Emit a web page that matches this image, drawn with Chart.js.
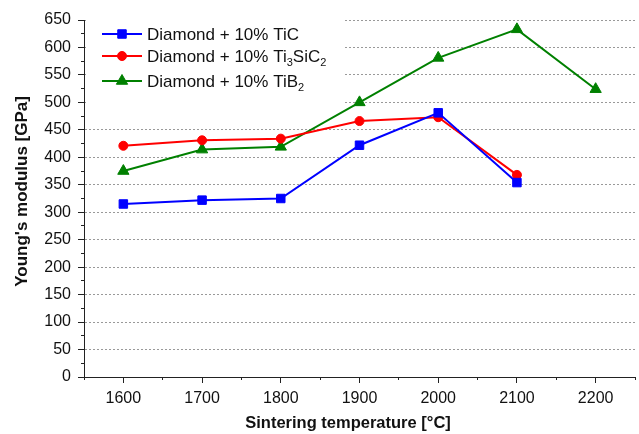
<!DOCTYPE html>
<html>
<head>
<meta charset="utf-8">
<script src="https://cdn.jsdelivr.net/npm/chart.js@4.4.0/dist/chart.umd.min.js"></script>
<style>
  html, body { margin: 0; padding: 0; background: #fff; }
</style>
</head>
<body>
<canvas id="grafico" width="639" height="434"></canvas>
<script>
// dati
const temperature = [1600, 1700, 1800, 1900, 2000, 2100, 2200];
const moduloTiC = [315, 322, 325, 422, 481, 354];
const moduloTi3SiC2 = [421, 431, 434, 466, 473, 368];
const moduloTiB2 = [375, 414, 419, 500, 581, 633, 524];
const etichette = ['Diamond + 10% TiC', 'Diamond + 10% Ti3SiC2', 'Diamond + 10% TiB2'];

const xMin = 1550, xMax = 2250, xStep = 100;
const yMin = 0, yMax = 650, yStep = 50;

const FONT = "'Liberation Sans', Arial, sans-serif";
const NBSP = '\u00A0';

function punti(valori) {
    return valori.map((v, i) => ({ x: temperature[i], y: v }));
}

// cifre subito dopo una lettera -> pedice
function segmenti(testo) {
    const out = [];
    let buf = '';
    for (let k = 0; k < testo.length; k++) {
        const c = testo[k];
        if (/\d/.test(c) && k > 0 && /[A-Za-z]/.test(testo[k - 1])) {
            if (buf) out.push({ t: buf, sub: false });
            buf = '';
            out.push({ t: c, sub: true });
        } else {
            buf += c;
        }
    }
    if (buf) out.push({ t: buf, sub: false });
    return out;
}

const legendaPlugin = {
    id: 'legenda',
    afterDraw(chart) {
        const ctx = chart.ctx;
        const righe = [34, 56, 81];
        ctx.save();
        ctx.fillStyle = '#fff';
        ctx.fillRect(chart.chartArea.left + 2, 10, 258, 100);
        chart.data.datasets.forEach((ds, i) => {
            const y = righe[i];
            ctx.strokeStyle = ds.borderColor;
            ctx.lineWidth = 2;
            ctx.beginPath();
            ctx.moveTo(102, y);
            ctx.lineTo(142, y);
            ctx.stroke();
            ctx.fillStyle = ds.pointBackgroundColor;
            ctx.lineWidth = 1;
            Chart.helpers.drawPoint(ctx, {
                pointStyle: ds.pointStyle, radius: ds.pointRadius, rotation: 0, borderWidth: 1
            }, 122, y);

            let x = 147;
            ctx.fillStyle = '#111';
            ctx.textBaseline = 'alphabetic';
            segmenti(ds.label).forEach(s => {
                ctx.font = (s.sub ? '11px ' : '17px ') + FONT;
                ctx.fillText(s.t, x, s.sub ? y + 10 : y + 6);
                x += ctx.measureText(s.t).width;
            });
        });
        ctx.restore();
    }
};

// niente margine extra a destra per le etichette dell'asse x
function fitX(altezza) {
    return (s) => {
        s.height = altezza;
        s.paddingLeft = 0;
        s.paddingRight = 0;
    };
}

function renderChart() {
    const ctx = document.getElementById('grafico').getContext('2d');
    const serie = [
        { valori: moduloTiC, colore: '#0000ff', stile: 'rect', raggio: 6 },
        { valori: moduloTi3SiC2, colore: '#ff0000', stile: 'circle', raggio: 4.5 },
        { valori: moduloTiB2, colore: '#008000', stile: 'triangle', raggio: 6.5 },
    ];

    new Chart(ctx, {
        type: 'line',
        data: {
            datasets: serie.map((s, i) => ({
                label: etichette[i],
                data: punti(s.valori),
                borderColor: s.colore,
                backgroundColor: s.colore,
                pointBackgroundColor: s.colore,
                pointBorderColor: s.colore,
                pointStyle: s.stile,
                pointRadius: s.raggio,
                pointBorderWidth: 1,
                borderWidth: 2,
                tension: 0,
                xAxisID: 'x',
                yAxisID: 'y',
            })),
        },
        options: {
            responsive: false,
            animation: false,
            devicePixelRatio: 1,
            layout: { autoPadding: false, padding: { top: 20, right: 4, left: 0, bottom: 0 } },
            plugins: {
                legend: { display: false },
                tooltip: { enabled: false },
            },
            scales: {
                x: {
                    type: 'linear',
                    position: 'bottom',
                    weight: 1,
                    min: xMin,
                    max: xMax,
                    afterFit: fitX(57),
                    ticks: {
                        stepSize: xStep / 2,
                        autoSkip: false,
                        maxRotation: 0,
                        padding: 6,
                        color: '#111',
                        font: { family: FONT, size: 16 },
                        callback: (v) => (v % xStep === 0 ? String(v) : ''),
                    },
                    grid: {
                        drawOnChartArea: false,
                        tickLength: 6,
                        tickWidth: 1,
                        tickBorderDash: [],
                        tickColor: (c) => (c.tick && c.tick.value % xStep === 0 ? '#222' : 'rgba(0,0,0,0)'),
                    },
                    border: { color: '#222', width: 1 },
                    title: {
                        display: true,
                        // spazi finali: il titolo originale è un po' spostato a sinistra
                        text: 'Sintering temperature [°C]' + NBSP.repeat(5),
                        color: '#111',
                        font: { family: FONT, size: 16.5, weight: 'bold' },
                        padding: { top: 0, bottom: 1 },
                    },
                },
                xMinor: {
                    type: 'linear',
                    position: 'bottom',
                    weight: 0,
                    min: xMin,
                    max: xMax,
                    afterFit: fitX(0),
                    ticks: { stepSize: xStep / 2, autoSkip: false, callback: () => '' },
                    grid: { drawOnChartArea: false, tickLength: 3, tickColor: '#222', tickBorderDash: [] },
                    border: { display: false },
                },
                y: {
                    type: 'linear',
                    position: 'left',
                    weight: 1,
                    min: yMin,
                    max: yMax,
                    afterFit: (s) => { s.width = 84; },
                    ticks: {
                        stepSize: yStep,
                        autoSkip: false,
                        padding: 7,
                        color: '#111',
                        font: { family: FONT, size: 16 },
                    },
                    grid: {
                        color: (c) => (c.tick && c.tick.value > yMin ? '#999' : 'rgba(0,0,0,0)'),
                        lineWidth: 1,
                        tickLength: 6,
                        tickColor: '#222',
                        tickBorderDash: [],
                    },
                    border: { color: '#222', width: 1, dash: [2, 2] },
                    title: {
                        display: true,
                        text: NBSP.repeat(3) + "Young's modulus [GPa]",
                        color: '#111',
                        font: { family: FONT, size: 17, weight: 'bold' },
                        padding: { top: 12, bottom: 0 },
                    },
                },
                yMinor: {
                    type: 'linear',
                    position: 'left',
                    weight: 0,
                    min: yMin,
                    max: yMax,
                    afterFit: (s) => { s.width = 0; },
                    ticks: { stepSize: yStep / 2, autoSkip: false, callback: () => '' },
                    grid: { drawOnChartArea: false, tickLength: 3, tickColor: '#222', tickBorderDash: [] },
                    border: { display: false },
                },
            },
        },
        plugins: [legendaPlugin],
    });
}

renderChart();
</script>
</body>
</html>
